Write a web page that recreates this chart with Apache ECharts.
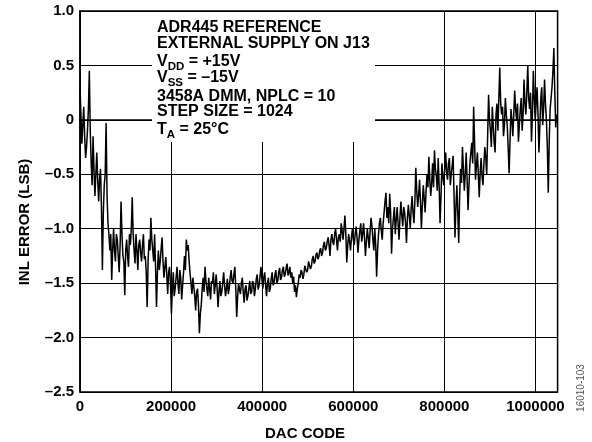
<!DOCTYPE html>
<html>
<head>
<meta charset="utf-8">
<script src="https://cdn.jsdelivr.net/npm/echarts@6/dist/echarts.min.js"></script>
<style>
html,body{margin:0;padding:0;background:#fff;}
#chart{width:592px;height:442px;}
</style>
</head>
<body>
<div id="chart"></div>
<script>
// Sample spacing in DAC codes (reference measured every 1024 codes; read here every 2048)
const SAMPLE_STEP = 2048;
// INL error (LSB), one value per sample
const inlValues = [
  0.30,0.05,-0.22,-0.05,0.12,-0.15,-0.35,-0.25,-0.10,0.10,
  0.45,-0.10,-0.40,-0.60,-0.15,-0.45,-0.70,-0.50,-0.30,-0.55,
  -0.75,-0.55,-0.45,-0.80,-1.38,-0.85,-0.60,-0.50,-0.03,-0.70,
  -0.95,-1.05,-1.20,-1.05,-1.47,-1.20,-1.00,-1.20,-1.30,-1.05,
  -1.10,-1.25,-1.40,-1.15,-0.75,-1.05,-1.25,-1.30,-1.61,-1.20,
  -1.10,-1.25,-1.35,-1.05,-1.15,-1.00,-0.71,-1.05,-1.20,-1.32,
  -1.05,-1.20,-1.38,-1.15,-1.10,-1.22,-1.30,-1.15,-1.05,-1.28,
  -1.25,-1.40,-1.72,-1.30,-1.10,-1.20,-0.90,-1.10,-1.20,-1.30,
  -1.05,-1.35,-1.72,-1.40,-1.20,-1.38,-1.30,-1.18,-1.08,-1.30,
  -1.45,-1.35,-1.26,-1.42,-1.60,-1.40,-1.35,-1.50,-1.78,-1.55,
  -1.40,-1.62,-1.55,-1.45,-1.35,-1.50,-1.60,-1.38,-1.45,-1.65,
  -1.52,-1.40,-1.25,-1.38,-1.10,-1.20,-1.15,-1.30,-1.41,-1.50,
  -1.60,-1.45,-1.53,-1.62,-1.75,-1.58,-1.55,-1.70,-1.96,-1.78,
  -1.70,-1.55,-1.45,-1.58,-1.35,-1.48,-1.55,-1.62,-1.45,-1.55,
  -1.65,-1.48,-1.50,-1.40,-1.60,-1.52,-1.42,-1.55,-1.72,-1.58,
  -1.48,-1.62,-1.58,-1.50,-1.40,-1.52,-1.62,-1.55,-1.46,-1.60,
  -1.55,-1.45,-1.38,-1.48,-1.50,-1.42,-1.35,-1.55,-1.81,-1.62,
  -1.50,-1.56,-1.60,-1.50,-1.45,-1.58,-1.68,-1.55,-1.52,-1.66,
  -1.62,-1.55,-1.48,-1.60,-1.58,-1.48,-1.50,-1.62,-1.55,-1.46,
  -1.42,-1.56,-1.52,-1.44,-1.35,-1.46,-1.55,-1.45,-1.40,-1.52,
  -1.62,-1.50,-1.45,-1.58,-1.55,-1.46,-1.40,-1.52,-1.50,-1.42,
  -1.38,-1.50,-1.48,-1.40,-1.36,-1.47,-1.45,-1.38,-1.35,-1.44,
  -1.42,-1.36,-1.32,-1.43,-1.40,-1.35,-1.45,-1.40,-1.50,-1.44,
  -1.58,-1.52,-1.63,-1.55,-1.50,-1.42,-1.45,-1.38,-1.40,-1.46,
  -1.42,-1.34,-1.35,-1.40,-1.38,-1.30,-1.31,-1.37,-1.35,-1.28,
  -1.25,-1.32,-1.30,-1.24,-1.22,-1.28,-1.26,-1.20,-1.18,-1.25,
  -1.22,-1.15,-1.12,-1.20,-1.18,-1.12,-1.08,-1.15,-1.25,-1.10,
  -1.05,-1.12,-1.15,-1.05,-1.00,-1.10,-1.20,-1.08,-1.05,-1.12,
  -0.95,-1.02,-1.10,-1.00,-0.88,-1.05,-1.31,-1.15,-1.05,-1.12,
  -1.20,-1.08,-1.00,-1.10,-1.15,-1.05,-0.98,-1.08,-1.22,-1.10,
  -1.02,-0.95,-1.12,-1.05,-0.95,-1.08,-1.25,-1.12,-1.00,-1.08,
  -1.18,-1.02,-0.90,-0.98,-1.10,-1.20,-1.00,-1.15,-1.44,-1.20,
  -1.05,-0.95,-0.90,-1.02,-1.10,-0.95,-0.85,-0.75,-0.67,-0.90,
  -0.80,-0.95,-0.68,-0.85,-1.23,-1.00,-0.90,-0.80,-1.05,-0.92,
  -0.80,-0.95,-1.10,-0.90,-0.75,-0.88,-0.98,-0.80,-0.85,-0.95,
  -1.13,-0.90,-0.78,-0.88,-1.00,-0.82,-0.70,-0.85,-0.95,-0.75,
  -0.44,-0.65,-0.80,-0.70,-0.55,-0.75,-1.00,-0.78,-0.60,-0.72,
  -0.85,-0.65,-0.50,-0.62,-0.34,-0.55,-0.70,-0.58,-0.40,-0.62,
  -0.28,-0.45,-0.52,-0.65,-0.35,-0.60,-0.95,-0.70,-0.40,-0.52,
  -0.60,-0.45,-0.30,-0.48,-0.55,-0.40,-0.35,-0.60,-0.50,-0.42,
  -0.33,-0.70,-1.08,-0.80,-0.60,-0.85,-1.13,-0.70,-0.45,-0.58,
  -0.25,-0.45,-0.65,-0.50,-0.30,-0.55,-0.83,-0.60,-0.40,-0.30,
  -0.21,-0.40,0.12,-0.20,-0.55,-0.42,-0.30,-0.50,-0.71,-0.48,
  -0.35,-0.52,-0.60,-0.40,-0.25,-0.35,-0.50,-0.15,0.23,0.00,
  -0.10,-0.25,0.12,-0.05,-0.21,-0.30,0.05,0.15,-0.10,0.20,
  0.48,0.15,0.05,0.12,-0.15,-0.05,0.20,0.05,-0.05,-0.25,
  -0.49,-0.20,0.10,0.00,-0.15,0.05,0.27,0.10,0.00,0.15,
  -0.20,-0.05,0.10,0.20,-0.10,0.05,0.37,0.15,0.05,0.25,
  0.50,0.20,0.10,0.25,-0.20,0.05,0.45,0.20,0.00,0.15,
  0.30,0.05,-0.30,-0.05,0.20,0.30,-0.05,0.10,0.37,0.15,
  0.00,-0.25,-0.67,-0.20,0.10,0.20,0.30,0.45,0.66,0.25,
  -0.07,0.05
];
const dacCodes = inlValues.map((_, i) => i * SAMPLE_STEP);
const xTicks = [0, 200000, 400000, 600000, 800000, 1000000];
const yTicks = [-2.5, -2.0, -1.5, -1.0, -0.5, 0, 0.5, 1.0];
const noteLines = [
  'ADR445 REFERENCE',
  'EXTERNAL SUPPLY ON J13',
  'V{s|DD} = +15V',
  'V{s|SS} = \u201315V',
  '3458A DMM, NPLC = 10',
  'STEP SIZE = 1024',
  'T{s|A} = 25\u00B0C'
];
const xName = 'DAC CODE';
const yName = 'INL ERROR (LSB)';
const figId = '16010-103';

const FONT = 'Arial, "Liberation Sans", Helvetica, sans-serif';
const chart = echarts.init(document.getElementById('chart'), null, {renderer: 'canvas'});
const fmtY = v => v === 0 ? '0' : (v < 0 ? '\u2013' : '') + Math.abs(v).toFixed(1);

const noteY = [20, 36, 54, 70, 89, 104, 122];
const graphics = [
  {type: 'rect', z: 50, shape: {x: 152, y: 12, width: 223, height: 130}, style: {fill: '#fff'}},
  ...noteLines.map((t, k) => ({
    type: 'text', z: 51, x: 157, y: noteY[k],
    style: {
      text: t, fill: '#000', font: 'bold 16px ' + FONT, verticalAlign: 'top', align: 'left',
      rich: {
        s: {fontSize: 11.5, fontWeight: 'bold', fontFamily: FONT, lineHeight: 12, padding: [7, 0, 0, 0], verticalAlign: 'top', fill: '#000'}
      }
    }
  })),
  {type: 'text', z: 51, x: 305, y: 434, style: {text: xName, font: 'bold 15px ' + FONT, fill: '#000', align: 'center', verticalAlign: 'middle'}},
  {type: 'text', z: 51, x: 25, y: 222, rotation: Math.PI / 2, style: {text: yName, font: 'bold 15px ' + FONT, fill: '#000', align: 'center', verticalAlign: 'middle'}},
  {type: 'text', z: 51, x: 581, y: 388, rotation: Math.PI / 2, style: {text: figId, font: '10px ' + FONT, fill: '#555', align: 'center', verticalAlign: 'middle'}}
];

chart.setOption({
  animation: false,
  backgroundColor: '#fff',
  grid: {left: 80, right: 34.4, top: 11, bottom: 50, show: true, borderColor: '#000', borderWidth: 1.5, backgroundColor: 'transparent'},
  xAxis: {
    type: 'value', min: 0, max: 1048576, interval: 200000,
    axisLine: {show: true, lineStyle: {color: '#000', width: 1.5}},
    axisTick: {show: false},
    splitLine: {show: true, lineStyle: {color: '#000', width: 1}},
    axisLabel: {
      margin: 7, color: '#000', fontWeight: 'bold', fontSize: 15, fontFamily: FONT, showMaxLabel: false,
      formatter: v => xTicks.includes(v) ? String(v) : ''
    }
  },
  yAxis: {
    type: 'value', min: -2.5, max: 1.0, interval: 0.5,
    axisLine: {show: true, lineStyle: {color: '#000', width: 1.5}},
    axisTick: {show: false},
    splitLine: {show: true, lineStyle: {color: '#000', width: 1}},
    axisLabel: {
      margin: 6, color: '#000', fontWeight: 'bold', fontSize: 15, fontFamily: FONT,
      formatter: v => fmtY(yTicks.find(t => Math.abs(t - v) < 1e-6) ?? v)
    }
  },
  series: [{
    type: 'line', showSymbol: false, symbol: 'none',
    lineStyle: {color: '#000', width: 1.5},
    data: dacCodes.map((c, i) => [c, inlValues[i]]),
    z: 5
  }],
  graphic: graphics
});
</script>
</body>
</html>
